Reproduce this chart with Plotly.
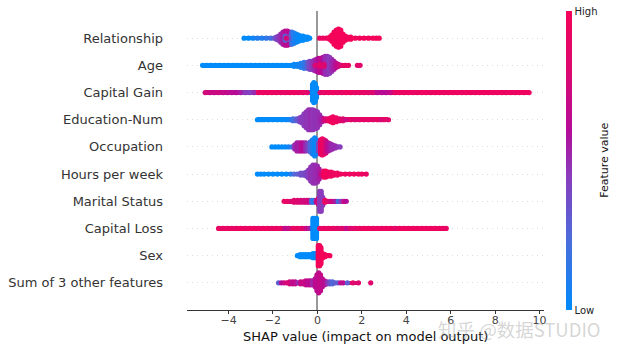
import plotly.graph_objects as go

# (shap value, stacked points at that value, feature value 0..1)
relationship = [(-3.3,1,0),(-3.1,1,0),(-2.9,1,.05),(-2.7,1,.1),(-2.5,1,.1),(-2.3,1,.15),(-2.1,1,.2),(-1.95,1,.3),(-1.85,2,.4),(-1.75,3,.45),(-1.65,5,.5),(-1.55,7,.55),(-1.45,8,.62),(-1.35,8,.65),(-1.25,7,.6),(-1.15,7,.2),(-1.05,6,.1),(-.95,5,.05),(-.85,4,.02),(-.75,3,0),(-.65,3,0),(-.55,2,0),(-.45,2,0),(-.35,1,0),(-1.45,3,.3),(-1.3,2,.35),(-1.4,1,.75),
 (.1,1,.9),(.25,1,.95),(.4,1,.95),(.55,2,1),(.65,4,1),(.75,7,1),(.85,9,1),(.95,10,1),(1.05,9,1),(1.15,5,1),(1.25,3,1),(1.35,2,1),(1.5,2,1),(1.7,1,1),(1.9,1,1),(2.1,1,1),(2.3,1,1),(2.5,1,1),(2.65,1,1),(2.78,1,1)]
age = [(-5.17,1,0),(-4.98,1,0),(-4.8,1,0),(-4.6,1,0),(-4.4,1,0),(-4.2,1,0),(-4.0,1,0),(-3.8,1,0),(-3.6,1,0),(-3.4,1,0),(-3.2,1,0),(-3.0,1,0),(-2.8,1,0),(-2.6,1,0),(-2.4,1,0),(-2.2,1,0),(-2.0,1,0),(-1.8,1,0),(-1.6,1,0),(-1.4,1,0),(-1.2,1,0),(-1.05,2,.02),(-.9,2,.05),(-.75,3,.08),(-.6,4,.15),(-.45,4,.3),(-.35,5,.4),(-.25,5,.45),(-.15,6,.5),(-.05,7,.55),(.05,8,.6),(.15,8,.65),(.25,9,.6),(.35,10,.5),(.45,10,.48),(.55,9,.45),(.65,7,.5),(.75,5,.55),(.85,3,.65),(.95,2,.7),(1.1,1,.85),(1.25,1,.9),(1.4,1,.9),(1.8,1,.85),(1.92,1,.85),(.1,2,.85),(.3,2,.8),(-.1,1,.8)]
capital_gain = [(-5.05,1,.75),(-4.85,1,.72),(-4.65,1,.7),(-4.45,1,.72),(-4.25,1,.68),(-4.05,1,.66),(-3.85,1,.62),(-3.65,1,.6),(-3.45,1,.55),(-3.25,1,.45),(-3.05,1,.42),(-2.85,1,.5),(-2.65,1,.9),(-2.45,1,.95),(-2.25,1,.92),(-2.05,1,.95),(-1.85,1,.92),(-1.65,1,.9),(-1.45,1,.9),(-1.25,1,.92),(-1.05,1,.95),(-.85,1,.9),(-.65,1,.9),(-.45,1,.85),
 (-.22,9,.03),(-.16,11,.01),(-.1,10,0),(-.04,6,.01),
 (.12,1,.85),(.3,1,.9),(.5,1,.92),(.7,1,.95),(.9,1,.9),(1.1,1,.92),(1.3,1,.95),(1.5,1,.95),(1.7,1,.9),(1.9,1,.9),(2.1,1,.88),(2.3,1,.85),(2.5,1,.8),(2.7,1,.65),(2.9,1,.62),(3.1,1,.62),(3.3,1,.7),(3.5,1,.92),(3.7,1,.95),(3.9,1,.92),(4.1,1,.95),(4.3,1,.92),(4.5,1,.92),(4.7,1,.95),(4.9,1,.95),(5.1,1,.92),(5.3,1,.95),(5.5,1,.95),(5.7,1,.92),(5.9,1,.95),(6.1,1,.95),(6.3,1,.95),(6.5,1,.92),(6.7,1,.95),(6.9,1,.95),(7.1,1,.92),(7.3,1,.95),(7.5,1,.95),(7.7,1,.95),(7.9,1,.95),(8.1,1,.95),(8.3,1,.95),(8.5,1,.92),(8.7,1,.95),(8.9,1,.92),(9.1,1,.95),(9.3,1,.95),(9.53,1,.95)]
education_num = [(-2.7,1,0),(-2.55,1,0),(-2.4,1,0),(-2.2,1,0),(-2.0,1,0),(-1.8,1,0),(-1.6,1,0),(-1.4,1,.02),(-1.25,1,.05),(-1.1,2,.2),(-.95,2,.3),(-.8,3,.4),(-.7,4,.45),(-.6,7,.45),(-.5,9,.47),(-.4,11,.47),(-.3,11,.5),(-.2,11,.47),(-.1,10,.48),(0,9,.48),(.1,6,.5),(.2,3,.55),(.3,2,.7),(.4,2,.8),(.5,2,.9),(.6,3,.95),(.7,4,.98),(.85,3,.95),(1.0,2,.9),(1.15,2,.8),(1.3,1,.75),(1.5,1,.85),(1.7,1,.8),(1.9,1,.85),(2.1,1,.9),(2.3,1,.9),(2.5,1,.85),(2.7,1,.9),(2.85,1,.8),(3.0,1,.85),(3.2,1,.85)]
occupation = [(-2.05,1,0),(-1.9,1,0),(-1.75,1,0),(-1.6,1,0),(-1.45,1,0),(-1.3,1,.05),(-1.15,1,.2),(-1.02,3,.5),(-.92,5,.55),(-.82,5,.55),(-.72,5,.62),(-.62,5,.6),(-.52,5,.5),(-.42,4,.4),(-.32,6,.25),(-.22,8,.1),(-.12,10,.03),(-.04,8,.05),(.05,5,.4),(.14,8,.85),(.22,9,.95),(.3,8,.9),(.38,7,.75),(.48,5,.62),(.58,4,.55),(.68,3,.5),(.8,2,.5),(.92,1,.48),(1.02,1,.45)]
hours = [(-2.7,1,0),(-2.55,1,0),(-2.4,1,0),(-2.2,1,0),(-2.0,1,0),(-1.8,1,0),(-1.6,1,0),(-1.4,1,0),(-1.2,1,.1),(-1.05,1,.25),(-.9,1,.3),(-.75,2,.35),(-.62,2,.38),(-.5,3,.4),(-.4,5,.45),(-.3,8,.48),(-.2,10,.48),(-.1,10,.5),(0,9,.5),(.08,6,.55),(.18,2,.7),(.28,4,.95),(.38,4,1),(.5,3,.95),(.62,3,.95),(.75,2,.95),(.9,2,.95),(1.05,1,.95),(1.25,1,.95),(1.45,1,.95),(1.65,1,.95),(1.85,1,.95),(2.0,1,.95),(2.2,1,.9)]
marital_status = [(-1.5,1,.9),(-1.35,1,.9),(-1.2,1,.8),(-1.05,2,.85),(-.9,2,.8),(-.75,2,.78),(-.6,2,.75),(-.48,2,.75),(-.36,2,.7),(-.26,2,.2),(-.16,2,.1),(-.05,2,.7),(.05,4,.75),(.1,11,.45),(.17,11,.45),(.24,5,.45),(.34,2,.95),(.46,1,.85),(.58,1,.75),(.7,1,.7),(.82,1,.55),(.94,1,.2),(1.06,1,.45),(1.2,1,.7),(1.3,1,.6)]
capital_loss = [(-4.45,1,.92),(-4.25,1,.9),(-4.05,1,.92),(-3.85,1,.9),(-3.65,1,.92),(-3.45,1,.95),(-3.25,1,.92),(-3.05,1,.95),(-2.85,1,.95),(-2.65,1,.92),(-2.45,1,.95),(-2.25,1,.95),(-2.05,1,.9),(-1.85,1,.92),(-1.65,1,.9),(-1.45,1,.65),(-1.3,1,.7),(-1.1,1,.9),(-.9,1,.92),(-.7,1,.85),(-.5,1,.7),(-.35,1,.55),
 (-.2,11,.01),(-.12,11,0),(-.04,11,0),
 (.1,1,.9),(.3,1,.92),(.5,1,.9),(.7,1,.9),(.9,1,.85),(1.1,1,.85),(1.3,1,.7),(1.5,1,.82),(1.7,1,.88),(1.9,1,.92),(2.1,1,.95),(2.3,1,.95),(2.5,1,.92),(2.7,1,.95),(2.9,1,.92),(3.1,1,.95),(3.3,1,.95),(3.5,1,.88),(3.7,1,.95),(3.9,1,.95),(4.1,1,.95),(4.3,1,.95),(4.5,1,.95),(4.7,1,.95),(4.9,1,.95),(5.1,1,.95),(5.3,1,.95),(5.5,1,.95),(5.65,1,.92),(5.8,1,.9)]
sex = [(-.9,1,0),(-.78,2,0),(-.66,2,0),(-.54,2,0),(-.42,2,0),(-.3,2,0),(-.2,3,0),(-.1,3,0),(-.03,2,.05),(.04,11,1),(.1,11,1),(.16,9,1),(.24,3,1),(.34,2,1),(.44,1,1),(.56,1,1)]
other_features = [(-1.75,1,.3),(-1.62,1,.6),(-1.5,1,.7),(-1.38,1,.78),(-1.25,2,.75),(-1.12,2,.65),(-1.0,2,.68),(-.88,1,.5),(-.76,2,.68),(-.64,2,.7),(-.52,3,.68),(-.4,3,.62),(-.3,3,.65),(-.2,3,.5),(-.1,5,.62),(-.02,9,.65),(.06,11,.65),(.14,9,.68),(.22,5,.65),(.32,3,.62),(.44,2,.5),(.56,2,.35),(.68,2,.25),(.8,1,.3),(.92,1,.3),(1.04,1,.65),(1.16,1,.65),(1.35,1,.3),(1.6,1,.85),(1.85,1,.8),(2.4,1,.85)]

row_names = ["Sum of 3 other features", "Sex", "Capital Loss", "Marital Status", "Hours per week",
             "Occupation", "Education-Num", "Capital Gain", "Age", "Relationship"]
row_data = [other_features, sex, capital_loss, marital_status, hours,
            occupation, education_num, capital_gain, age, relationship]
x_ticks = [-4, -2, 0, 2, 4, 6, 8, 10]

STACK = 0.0735
MAX_RUN = 0.25
colorscale = [[0, "#008bfb"], [.23, "#4a6ddc"], [.45, "#8a3cbc"], [.6, "#b40c98"], [.8, "#dc0870"], [1, "#f4035a"]]

fig = go.Figure()
for row, points in enumerate(row_data):
    base, length, colors = [], [], []
    for (x0, _, c0), (x1, _, c1) in zip(points, points[1:]):
        if 0 < x1 - x0 <= MAX_RUN:
            base.append(x0)
            length.append(x1 - x0)
            colors.append(c1)
    fig.add_trace(go.Bar(x=length, base=base, y=[row] * len(base), orientation="h", width=0.17,
                         marker=dict(color=colors, colorscale=colorscale, cmin=0, cmax=1, line=dict(width=0)),
                         showlegend=False, hoverinfo="skip"))
for row, points in enumerate(row_data):
    xs, ys, cs = [], [], []
    for value, count, feature in points:
        for k in range(count):
            xs.append(value)
            ys.append(row + (k - (count - 1) / 2) * STACK)
            cs.append(feature)
    marker = dict(size=5.2, color=cs, colorscale=colorscale, cmin=0, cmax=1, line=dict(width=0))
    if row == 0:
        marker.update(showscale=True, colorbar=dict(
            thickness=6, len=1, lenmode="fraction", y=0.5, yanchor="middle", ypad=0, x=1.0616, xanchor="left", xpad=0,
            outlinewidth=0, tickvals=[0, 1], ticktext=["Low", "High"], ticks="",
            tickfont=dict(family="DejaVu Sans", size=10, color="#222")))
    fig.add_trace(go.Scatter(x=xs, y=ys, mode="markers", marker=marker, showlegend=False, hoverinfo="skip"))

fig.update_layout(
    width=619, height=351, plot_bgcolor="white", paper_bgcolor="white", barmode="overlay", bargap=0,
    margin=dict(l=187, r=75, t=11, b=41, autoexpand=False), font=dict(family="DejaVu Sans", color="#333"),
    xaxis=dict(range=[-5.87, 10.2], tickvals=x_ticks, ticks="outside", ticklen=3, tickcolor="#333", automargin=False,
               tickfont=dict(size=11, color="#444"), ticklabelstandoff=-3, showgrid=False, showline=True, linecolor="#333", linewidth=1,
               zeroline=True, zerolinecolor="#999", zerolinewidth=2),
    yaxis=dict(range=[-1, 10], tickvals=list(range(10)), ticktext=row_names, tickfont=dict(size=13, color="#333"),
               ticks="", ticklabelstandoff=23, showline=False, zeroline=False, automargin=False,
               showgrid=True, gridcolor="#ddd", gridwidth=1, griddash="1px,4px"),
    annotations=[
        dict(text="SHAP value (impact on model output)", xref="paper", yref="paper", x=0.5, y=-0.09, showarrow=False,
             font=dict(size=13, color="#111", family="DejaVu Sans"), xanchor="center", yanchor="middle"),
        dict(text="Feature value", textangle=-90, xref="paper", yref="paper", x=1.169, y=0.5, showarrow=False,
             font=dict(size=11, color="#111", family="DejaVu Sans"), xanchor="center", yanchor="middle"),
        dict(text="知乎 @数据STUDIO", xref="paper", yref="paper", x=1.165, y=-0.012, xanchor="right", yanchor="top",
             showarrow=False, font=dict(size=18.5, color="rgba(150,150,150,0.4)", family="Noto Sans CJK SC")),
    ],
)
fig.write_html("out.html", post_script="document.body.style.margin='0';", config={"displayModeBar": False})
